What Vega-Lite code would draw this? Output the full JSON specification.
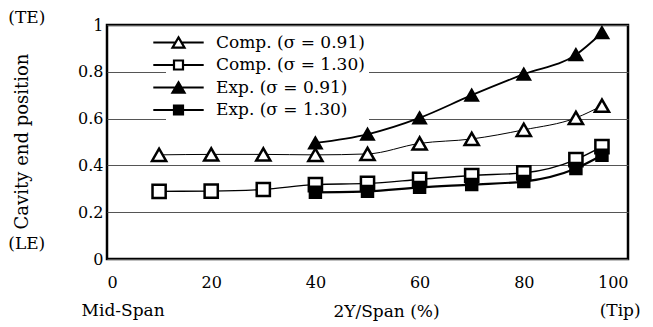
{
  "$schema": "https://vega.github.io/schema/vega-lite/v6.json",
  "autosize": "none",
  "padding": {"left": 107, "top": 25, "right": 25, "bottom": 68},
  "width": 521,
  "height": 234,
  "background": "white",
  "config": {
    "font": "DejaVu Serif",
    "view": {"stroke": "black", "strokeWidth": 2.5},
    "text": {"font": "DejaVu Serif", "fontWeight": "normal"},
    "axis": {"labelFont": "DejaVu Serif", "titleFont": "DejaVu Serif", "labelFontSize": 16, "titleFontSize": 17, "titleFontWeight": "normal", "labelColor": "black", "titleColor": "black", "ticks": false, "domain": false}
  },
  "data": {
    "values": [
      {"series": "Comp. (σ = 0.91)", "x": 10, "y": 0.445},
      {"series": "Comp. (σ = 0.91)", "x": 20, "y": 0.447},
      {"series": "Comp. (σ = 0.91)", "x": 30, "y": 0.447},
      {"series": "Comp. (σ = 0.91)", "x": 40, "y": 0.445},
      {"series": "Comp. (σ = 0.91)", "x": 50, "y": 0.449},
      {"series": "Comp. (σ = 0.91)", "x": 60, "y": 0.494},
      {"series": "Comp. (σ = 0.91)", "x": 70, "y": 0.513},
      {"series": "Comp. (σ = 0.91)", "x": 80, "y": 0.552},
      {"series": "Comp. (σ = 0.91)", "x": 90, "y": 0.603},
      {"series": "Comp. (σ = 0.91)", "x": 95, "y": 0.655},
      {"series": "Comp. (σ = 1.30)", "x": 10, "y": 0.289},
      {"series": "Comp. (σ = 1.30)", "x": 20, "y": 0.29},
      {"series": "Comp. (σ = 1.30)", "x": 30, "y": 0.297},
      {"series": "Comp. (σ = 1.30)", "x": 40, "y": 0.318},
      {"series": "Comp. (σ = 1.30)", "x": 50, "y": 0.323},
      {"series": "Comp. (σ = 1.30)", "x": 60, "y": 0.34},
      {"series": "Comp. (σ = 1.30)", "x": 70, "y": 0.357},
      {"series": "Comp. (σ = 1.30)", "x": 80, "y": 0.368},
      {"series": "Comp. (σ = 1.30)", "x": 90, "y": 0.425},
      {"series": "Comp. (σ = 1.30)", "x": 95, "y": 0.48},
      {"series": "Exp. (σ = 0.91)", "x": 40, "y": 0.496},
      {"series": "Exp. (σ = 0.91)", "x": 50, "y": 0.533},
      {"series": "Exp. (σ = 0.91)", "x": 60, "y": 0.603},
      {"series": "Exp. (σ = 0.91)", "x": 70, "y": 0.7},
      {"series": "Exp. (σ = 0.91)", "x": 80, "y": 0.79},
      {"series": "Exp. (σ = 0.91)", "x": 90, "y": 0.873},
      {"series": "Exp. (σ = 0.91)", "x": 95, "y": 0.967},
      {"series": "Exp. (σ = 1.30)", "x": 40, "y": 0.285},
      {"series": "Exp. (σ = 1.30)", "x": 50, "y": 0.289},
      {"series": "Exp. (σ = 1.30)", "x": 60, "y": 0.306},
      {"series": "Exp. (σ = 1.30)", "x": 70, "y": 0.318},
      {"series": "Exp. (σ = 1.30)", "x": 80, "y": 0.331},
      {"series": "Exp. (σ = 1.30)", "x": 90, "y": 0.387},
      {"series": "Exp. (σ = 1.30)", "x": 95, "y": 0.443}
    ]
  },
  "resolve": {"scale": {"shape": "independent", "fill": "independent"}},
  "layer": [
    {
      "mark": {"type": "line", "interpolate": "monotone", "color": "black"},
      "encoding": {
        "x": {"field": "x", "type": "quantitative", "scale": {"domain": [0, 100]},
          "axis": {"values": [0, 20, 40, 60, 80, 100], "grid": false, "labelPadding": 15, "title": "2Y/Span (%)", "titleX": 279, "titleY": 44, "titleBaseline": "top"}},
        "y": {"field": "y", "type": "quantitative", "scale": {"domain": [0, 1]},
          "axis": {"values": [0, 0.2, 0.4, 0.6, 0.8, 1], "labelExpr": "format(datum.value, '~g')", "labelPadding": 4, "grid": true, "gridColor": "#555", "gridWidth": 1, "title": "Cavity end position", "titleFontSize": 18, "titleX": -85, "titleY": 116, "titleBaseline": "middle"}},
        "detail": {"field": "series"},
        "strokeWidth": {"field": "series", "type": "nominal", "legend": null,
          "scale": {"domain": ["Comp. (σ = 0.91)", "Comp. (σ = 1.30)", "Exp. (σ = 0.91)", "Exp. (σ = 1.30)"], "range": [1, 2.2, 2.6, 2.2]}}
      }
    },
    {
      "mark": {"type": "point", "filled": true, "stroke": "black", "strokeWidth": 2.5, "opacity": 1},
      "encoding": {
        "x": {"field": "x", "type": "quantitative"},
        "y": {"field": "y", "type": "quantitative"},
        "shape": {"field": "series", "type": "nominal", "legend": null,
          "scale": {"domain": ["Comp. (σ = 0.91)", "Comp. (σ = 1.30)", "Exp. (σ = 0.91)", "Exp. (σ = 1.30)"], "range": ["triangle-up", "square", "triangle-up", "square"]}},
        "fill": {"field": "series", "type": "nominal", "legend": null,
          "scale": {"domain": ["Comp. (σ = 0.91)", "Comp. (σ = 1.30)", "Exp. (σ = 0.91)", "Exp. (σ = 1.30)"], "range": ["white", "white", "black", "black"]}},
        "size": {"field": "series", "type": "nominal", "legend": null,
          "scale": {"domain": ["Comp. (σ = 0.91)", "Comp. (σ = 1.30)", "Exp. (σ = 0.91)", "Exp. (σ = 1.30)"], "range": [200, 120, 200, 120]}}
      }
    },
    {
      "mark": {"type": "point", "filled": true, "stroke": "black", "strokeWidth": 2.2, "opacity": 0},
      "encoding": {
        "x": {"field": "x", "type": "quantitative"},
        "y": {"field": "y", "type": "quantitative"},
        "shape": {"field": "series", "type": "nominal",
          "scale": {"domain": ["Comp. (σ = 0.91)", "Comp. (σ = 1.30)", "Exp. (σ = 0.91)", "Exp. (σ = 1.30)"],
            "range": ["M-4.2,0H-0.55M0.55,0H4.2M0,-0.85L1,0.85H-1Z", "M-4.2,0H-0.75M0.75,0H4.2M-0.75,-0.75H0.75V0.75H-0.75Z", "M-4.2,0H4.2M0,-0.85L1,0.85H-1Z", "M-4.2,0H4.2M-0.75,-0.75H0.75V0.75H-0.75Z"]},
          "legend": {"title": null, "orient": "none", "legendX": 59, "legendY": 5, "padding": 4, "fillColor": "white",
            "symbolSize": 144, "symbolStrokeWidth": 2.2, "symbolOpacity": 1,
            "labelFont": "DejaVu Serif", "labelFontSize": 17, "labelColor": "black", "labelOffset": 29, "rowPadding": 3.5}},
        "fill": {"field": "series", "type": "nominal",
          "scale": {"domain": ["Comp. (σ = 0.91)", "Comp. (σ = 1.30)", "Exp. (σ = 0.91)", "Exp. (σ = 1.30)"], "range": ["white", "white", "black", "black"]},
          "legend": {"title": null, "orient": "none", "legendX": 59, "legendY": 5, "padding": 4, "fillColor": "white",
            "symbolSize": 144, "symbolStrokeWidth": 2.2, "symbolOpacity": 1,
            "labelFont": "DejaVu Serif", "labelFontSize": 17, "labelColor": "black", "labelOffset": 29, "rowPadding": 3.5}}
      }
    },
    {
      "data": {"values": [{}]},
      "mark": {"type": "text", "font": "DejaVu Serif", "fontWeight": "normal", "fontSize": 17, "color": "black", "align": "center", "baseline": "middle"},
      "encoding": {"x": {"datum": -15.4}, "y": {"datum": 1.03}, "text": {"value": "(TE)"}}
    },
    {
      "data": {"values": [{}]},
      "mark": {"type": "text", "font": "DejaVu Serif", "fontWeight": "normal", "fontSize": 17, "color": "black", "align": "center", "baseline": "middle"},
      "encoding": {"x": {"datum": -15.4}, "y": {"datum": 0.062}, "text": {"value": "(LE)"}}
    },
    {
      "data": {"values": [{}]},
      "mark": {"type": "text", "font": "DejaVu Serif", "fontWeight": "normal", "fontSize": 17, "color": "black", "align": "center", "baseline": "middle"},
      "encoding": {"x": {"datum": 3.1}, "y": {"datum": -0.222}, "text": {"value": "Mid-Span"}}
    },
    {
      "data": {"values": [{}]},
      "mark": {"type": "text", "font": "DejaVu Serif", "fontWeight": "normal", "fontSize": 17, "color": "black", "align": "center", "baseline": "middle"},
      "encoding": {"x": {"datum": 98.5}, "y": {"datum": -0.222}, "text": {"value": "(Tip)"}}
    }
  ]
}
